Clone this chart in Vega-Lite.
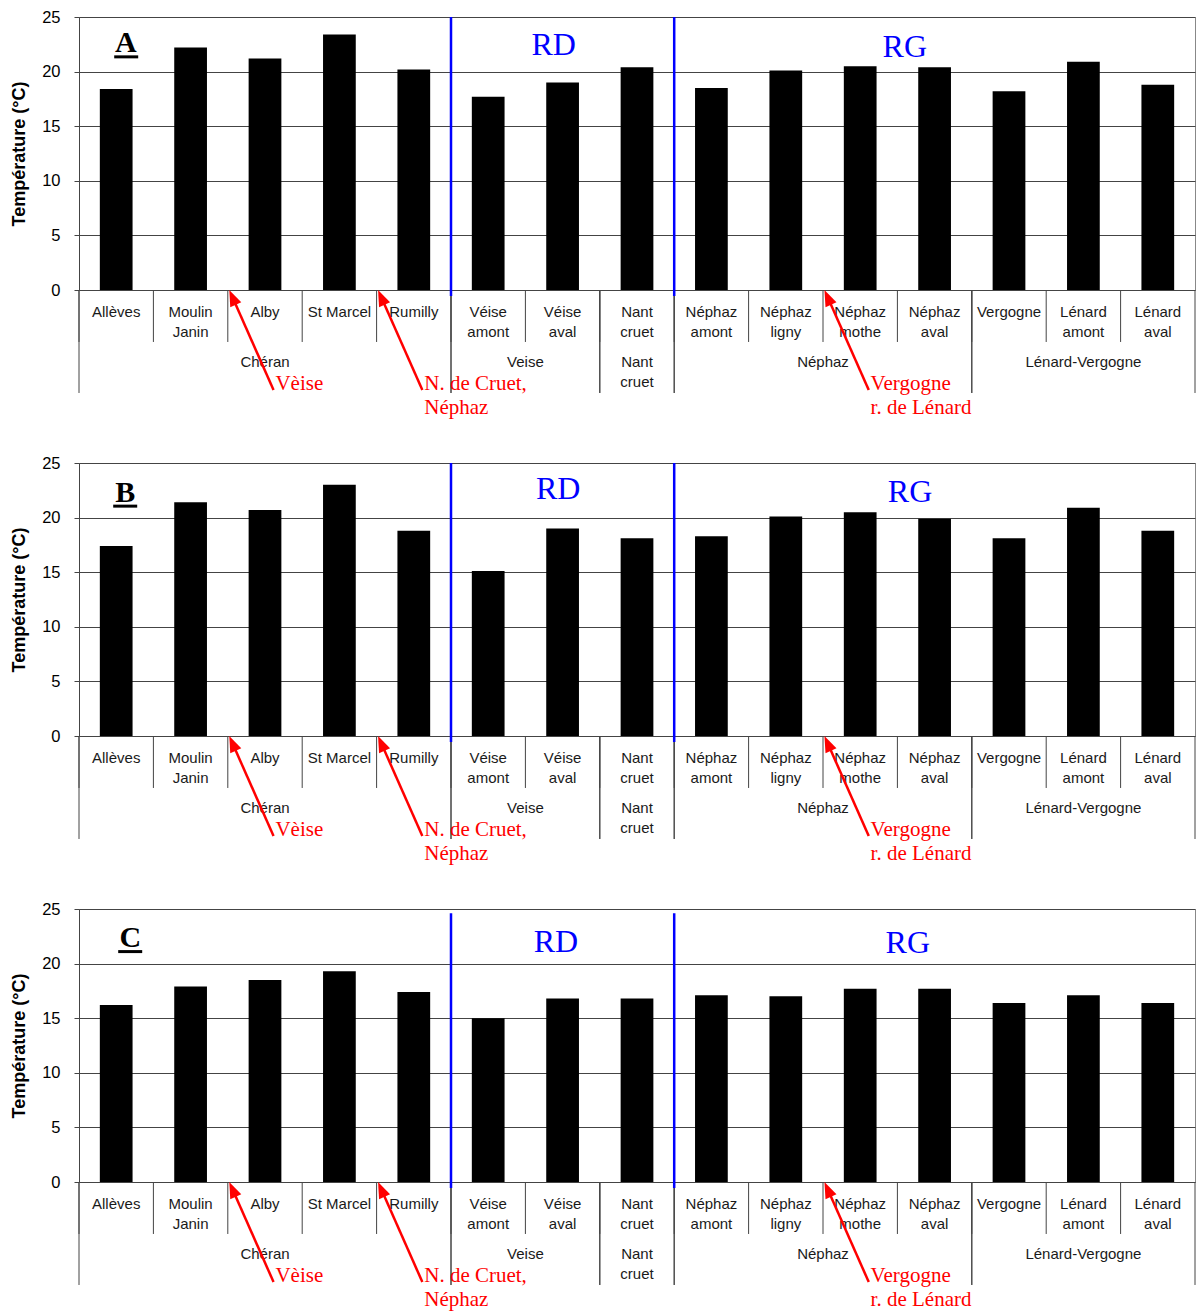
{
  "$schema": "https://vega.github.io/schema/vega-lite/v6.json",
  "background": "white",
  "padding": {"left": 10, "top": 8, "right": 0, "bottom": 0},
  "bounds": "flush",
  "spacing": 173,
  "datasets": {
    "temps": [
      {"panel": "A", "station": "Allèves", "t": 18.4},
      {"panel": "A", "station": "Moulin Janin", "t": 22.2},
      {"panel": "A", "station": "Alby", "t": 21.2},
      {"panel": "A", "station": "St\u00a0Marcel", "t": 23.4},
      {"panel": "A", "station": "Rumilly", "t": 20.2},
      {"panel": "A", "station": "Véise amont", "t": 17.7},
      {"panel": "A", "station": "Véise aval", "t": 19.0},
      {"panel": "A", "station": "Nant cruet", "t": 20.4},
      {"panel": "A", "station": "Néphaz amont", "t": 18.5},
      {"panel": "A", "station": "Néphaz ligny", "t": 20.1},
      {"panel": "A", "station": "Néphaz mothe", "t": 20.5},
      {"panel": "A", "station": "Néphaz aval", "t": 20.4},
      {"panel": "A", "station": "Vergogne", "t": 18.2},
      {"panel": "A", "station": "Lénard amont", "t": 20.9},
      {"panel": "A", "station": "Lénard aval", "t": 18.8},
      {"panel": "B", "station": "Allèves", "t": 17.4},
      {"panel": "B", "station": "Moulin Janin", "t": 21.4},
      {"panel": "B", "station": "Alby", "t": 20.7},
      {"panel": "B", "station": "St\u00a0Marcel", "t": 23.0},
      {"panel": "B", "station": "Rumilly", "t": 18.8},
      {"panel": "B", "station": "Véise amont", "t": 15.1},
      {"panel": "B", "station": "Véise aval", "t": 19.0},
      {"panel": "B", "station": "Nant cruet", "t": 18.1},
      {"panel": "B", "station": "Néphaz amont", "t": 18.3},
      {"panel": "B", "station": "Néphaz ligny", "t": 20.1},
      {"panel": "B", "station": "Néphaz mothe", "t": 20.5},
      {"panel": "B", "station": "Néphaz aval", "t": 19.9},
      {"panel": "B", "station": "Vergogne", "t": 18.1},
      {"panel": "B", "station": "Lénard amont", "t": 20.9},
      {"panel": "B", "station": "Lénard aval", "t": 18.8},
      {"panel": "C", "station": "Allèves", "t": 16.2},
      {"panel": "C", "station": "Moulin Janin", "t": 17.9},
      {"panel": "C", "station": "Alby", "t": 18.5},
      {"panel": "C", "station": "St\u00a0Marcel", "t": 19.3},
      {"panel": "C", "station": "Rumilly", "t": 17.4},
      {"panel": "C", "station": "Véise amont", "t": 15.0},
      {"panel": "C", "station": "Véise aval", "t": 16.8},
      {"panel": "C", "station": "Nant cruet", "t": 16.8},
      {"panel": "C", "station": "Néphaz amont", "t": 17.1},
      {"panel": "C", "station": "Néphaz ligny", "t": 17.0},
      {"panel": "C", "station": "Néphaz mothe", "t": 17.7},
      {"panel": "C", "station": "Néphaz aval", "t": 17.7},
      {"panel": "C", "station": "Vergogne", "t": 16.4},
      {"panel": "C", "station": "Lénard amont", "t": 17.1},
      {"panel": "C", "station": "Lénard aval", "t": 16.4}
    ],
    "groups": [
      {"group": "Chéran", "first": "Allèves", "last": "Rumilly", "anchor": "Alby", "mode": "center"},
      {"group": "Veise", "first": "Véise amont", "last": "Véise aval", "anchor": "Véise amont", "mode": "edge"},
      {"group": "Nant cruet", "first": "Nant cruet", "last": "Nant cruet", "anchor": "Nant cruet", "mode": "center"},
      {"group": "Néphaz", "first": "Néphaz amont", "last": "Néphaz aval", "anchor": "Néphaz ligny", "mode": "edge"},
      {"group": "Lénard-Vergogne", "first": "Vergogne", "last": "Lénard aval", "anchor": "Lénard amont", "mode": "center"}
    ],
    "banks": [
      {"bank": "RD", "edge": "Véise amont", "anchor": "Véise aval"},
      {"bank": "RG", "edge": "Néphaz amont", "anchor": "Néphaz aval"}
    ],
    "arrows": [
      {"at": "Alby", "label": "Vèise"},
      {"at": "Rumilly", "label": "N. de Cruet,\nNéphaz"},
      {"at": "Néphaz mothe", "label": "Vergogne\nr. de Lénard"}
    ],
    "panels": [
      {"panel": "A", "anchor": "Allèves"},
      {"panel": "B", "anchor": "Allèves"},
      {"panel": "C", "anchor": "Allèves"}
    ]
  },
  "vconcat": [
    {
      "width": 1116, "height": 273,
      "layer": [
        {"data": {"name": "temps"}, "transform": [{"filter": "datum.panel === 'A'"}],
         "mark": {"type": "bar", "color": "#000000", "width": {"band": 0.44}},
         "encoding": {
           "x": {"field": "station", "type": "nominal", "sort": null, "axis": null,
                 "scale": {"type": "band", "paddingInner": 0, "paddingOuter": 0, "domain": ["Allèves","Moulin Janin","Alby","St\u00a0Marcel","Rumilly","Véise amont","Véise aval","Nant cruet","Néphaz amont","Néphaz ligny","Néphaz mothe","Néphaz aval","Vergogne","Lénard amont","Lénard aval"]}},
           "y": {"field": "t", "type": "quantitative", "scale": {"domain": [0, 25], "nice": false},
                 "axis": {"title": "Température (°C)", "values": [0, 5, 10, 15, 20, 25], "grid": true, "gridColor": "#444", "domainColor": "#444", "tickColor": "#444", "tickSize": 5, "labelFont": "Liberation Sans", "labelFontSize": 16.5, "labelColor": "#000", "labelPadding": 14, "titleFont": "Liberation Sans", "titleFontSize": 18, "titleFontWeight": "bold", "titleColor": "#000", "titlePadding": 13}}
         }},
        {"data": {"name": "temps"}, "transform": [{"filter": "datum.panel === 'A'"}],
         "mark": {"type": "rule", "color": "#444", "strokeWidth": 1},
         "encoding": {"x": {"field": "station", "type": "nominal", "bandPosition": 0}, "y": {"datum": 0}, "y2": {"datum": -4.76}}},
        {"data": {"name": "groups"},
         "mark": {"type": "rule", "color": "#444", "strokeWidth": 1},
         "encoding": {"x": {"field": "first", "type": "nominal", "bandPosition": 0}, "y": {"datum": 0}, "y2": {"datum": -9.43}}},
        {"data": {"name": "groups"},
         "mark": {"type": "rule", "color": "#444", "strokeWidth": 1},
         "encoding": {"x": {"field": "last", "type": "nominal", "bandPosition": 1}, "y": {"datum": 0}, "y2": {"datum": -9.43}}},
        {"data": {"name": "temps"}, "transform": [{"filter": "datum.panel === 'A'"}],
         "mark": {"type": "text", "font": "Liberation Sans", "fontSize": 15, "color": "#1a1a1a", "lineBreak": " ", "lineHeight": 20, "baseline": "alphabetic", "align": "center"},
         "encoding": {"x": {"field": "station", "type": "nominal", "bandPosition": 0.5}, "y": {"datum": -2.47}, "text": {"field": "station"}}},
        {"data": {"name": "groups"}, "transform": [{"filter": "datum.mode === 'center'"}],
         "mark": {"type": "text", "font": "Liberation Sans", "fontSize": 15, "color": "#1a1a1a", "lineBreak": " ", "lineHeight": 20, "baseline": "alphabetic", "align": "center"},
         "encoding": {"x": {"field": "anchor", "type": "nominal", "bandPosition": 0.5}, "y": {"datum": -7.02}, "text": {"field": "group"}}},
        {"data": {"name": "groups"}, "transform": [{"filter": "datum.mode === 'edge'"}],
         "mark": {"type": "text", "font": "Liberation Sans", "fontSize": 15, "color": "#1a1a1a", "lineBreak": " ", "lineHeight": 20, "baseline": "alphabetic", "align": "center"},
         "encoding": {"x": {"field": "anchor", "type": "nominal", "bandPosition": 1}, "y": {"datum": -7.02}, "text": {"field": "group"}}},
        {"data": {"name": "banks"},
         "mark": {"type": "rule", "color": "#0000FF", "strokeWidth": 2.5},
         "encoding": {"x": {"field": "edge", "type": "nominal", "bandPosition": 0}, "y": {"datum": 25}, "y2": {"datum": -0.55}}},
        {"data": {"name": "banks"}, "transform": [{"filter": "datum.bank === 'RD'"}],
         "mark": {"type": "text", "font": "Liberation Serif", "fontSize": 32, "color": "#0000FF", "baseline": "alphabetic", "align": "center"},
         "encoding": {"x": {"field": "anchor", "type": "nominal", "bandPosition": 0.38}, "y": {"datum": 21.5}, "text": {"field": "bank"}}},
        {"data": {"name": "banks"}, "transform": [{"filter": "datum.bank === 'RG'"}],
         "mark": {"type": "text", "font": "Liberation Serif", "fontSize": 32, "color": "#0000FF", "baseline": "alphabetic", "align": "center"},
         "encoding": {"x": {"field": "anchor", "type": "nominal", "bandPosition": 0.1}, "y": {"datum": 21.36}, "text": {"field": "bank"}}},
        {"data": {"name": "arrows"},
         "mark": {"type": "rule", "color": "#FF0000", "strokeWidth": 2.5},
         "encoding": {"x": {"field": "at", "type": "nominal", "bandPosition": 0.078}, "x2": {"field": "at", "bandPosition": 0.615}, "y": {"datum": -0.9}, "y2": {"datum": -9.16}}},
        {"data": {"name": "arrows"},
         "mark": {"type": "point", "shape": "M0,-1L-0.56,0.5L0.56,0.5Z", "size": 460, "angle": 336, "filled": true, "color": "#FF0000", "opacity": 1},
         "encoding": {"x": {"field": "at", "type": "nominal", "bandPosition": 0.078}, "y": {"datum": -0.9}}},
        {"data": {"name": "arrows"},
         "mark": {"type": "text", "font": "Liberation Serif", "fontSize": 21, "color": "#FF0000", "lineBreak": "\n", "lineHeight": 24, "baseline": "alphabetic", "align": "left"},
         "encoding": {"x": {"field": "at", "type": "nominal", "bandPosition": 0.64}, "y": {"datum": -9.16}, "text": {"field": "label"}}},
        {"data": {"name": "panels"}, "transform": [{"filter": "datum.panel === 'A'"}],
         "mark": {"type": "text", "font": "Liberation Serif", "fontSize": 30, "fontWeight": "bold", "color": "#000", "baseline": "alphabetic", "align": "center"},
         "encoding": {"x": {"field": "anchor", "type": "nominal", "bandPosition": 0.63}, "y": {"datum": 21.8}, "text": {"field": "panel"}}},
        {"data": {"name": "panels"}, "transform": [{"filter": "datum.panel === 'A'"}],
         "mark": {"type": "tick", "orient": "horizontal", "thickness": 3, "size": 24, "color": "#000", "opacity": 1, "xOffset": 10},
         "encoding": {"x": {"field": "anchor", "type": "nominal"}, "y": {"datum": 21.35}}}
      ]
    },
    {
      "width": 1116, "height": 273,
      "layer": [
        {"data": {"name": "temps"}, "transform": [{"filter": "datum.panel === 'B'"}],
         "mark": {"type": "bar", "color": "#000000", "width": {"band": 0.44}},
         "encoding": {
           "x": {"field": "station", "type": "nominal", "sort": null, "axis": null,
                 "scale": {"type": "band", "paddingInner": 0, "paddingOuter": 0, "domain": ["Allèves","Moulin Janin","Alby","St\u00a0Marcel","Rumilly","Véise amont","Véise aval","Nant cruet","Néphaz amont","Néphaz ligny","Néphaz mothe","Néphaz aval","Vergogne","Lénard amont","Lénard aval"]}},
           "y": {"field": "t", "type": "quantitative", "scale": {"domain": [0, 25], "nice": false},
                 "axis": {"title": "Température (°C)", "values": [0, 5, 10, 15, 20, 25], "grid": true, "gridColor": "#444", "domainColor": "#444", "tickColor": "#444", "tickSize": 5, "labelFont": "Liberation Sans", "labelFontSize": 16.5, "labelColor": "#000", "labelPadding": 14, "titleFont": "Liberation Sans", "titleFontSize": 18, "titleFontWeight": "bold", "titleColor": "#000", "titlePadding": 13}}
         }},
        {"data": {"name": "temps"}, "transform": [{"filter": "datum.panel === 'B'"}],
         "mark": {"type": "rule", "color": "#444", "strokeWidth": 1},
         "encoding": {"x": {"field": "station", "type": "nominal", "bandPosition": 0}, "y": {"datum": 0}, "y2": {"datum": -4.76}}},
        {"data": {"name": "groups"},
         "mark": {"type": "rule", "color": "#444", "strokeWidth": 1},
         "encoding": {"x": {"field": "first", "type": "nominal", "bandPosition": 0}, "y": {"datum": 0}, "y2": {"datum": -9.43}}},
        {"data": {"name": "groups"},
         "mark": {"type": "rule", "color": "#444", "strokeWidth": 1},
         "encoding": {"x": {"field": "last", "type": "nominal", "bandPosition": 1}, "y": {"datum": 0}, "y2": {"datum": -9.43}}},
        {"data": {"name": "temps"}, "transform": [{"filter": "datum.panel === 'B'"}],
         "mark": {"type": "text", "font": "Liberation Sans", "fontSize": 15, "color": "#1a1a1a", "lineBreak": " ", "lineHeight": 20, "baseline": "alphabetic", "align": "center"},
         "encoding": {"x": {"field": "station", "type": "nominal", "bandPosition": 0.5}, "y": {"datum": -2.47}, "text": {"field": "station"}}},
        {"data": {"name": "groups"}, "transform": [{"filter": "datum.mode === 'center'"}],
         "mark": {"type": "text", "font": "Liberation Sans", "fontSize": 15, "color": "#1a1a1a", "lineBreak": " ", "lineHeight": 20, "baseline": "alphabetic", "align": "center"},
         "encoding": {"x": {"field": "anchor", "type": "nominal", "bandPosition": 0.5}, "y": {"datum": -7.02}, "text": {"field": "group"}}},
        {"data": {"name": "groups"}, "transform": [{"filter": "datum.mode === 'edge'"}],
         "mark": {"type": "text", "font": "Liberation Sans", "fontSize": 15, "color": "#1a1a1a", "lineBreak": " ", "lineHeight": 20, "baseline": "alphabetic", "align": "center"},
         "encoding": {"x": {"field": "anchor", "type": "nominal", "bandPosition": 1}, "y": {"datum": -7.02}, "text": {"field": "group"}}},
        {"data": {"name": "banks"},
         "mark": {"type": "rule", "color": "#0000FF", "strokeWidth": 2.5},
         "encoding": {"x": {"field": "edge", "type": "nominal", "bandPosition": 0}, "y": {"datum": 25}, "y2": {"datum": -0.55}}},
        {"data": {"name": "banks"}, "transform": [{"filter": "datum.bank === 'RD'"}],
         "mark": {"type": "text", "font": "Liberation Serif", "fontSize": 32, "color": "#0000FF", "baseline": "alphabetic", "align": "center"},
         "encoding": {"x": {"field": "anchor", "type": "nominal", "bandPosition": 0.44}, "y": {"datum": 21.7}, "text": {"field": "bank"}}},
        {"data": {"name": "banks"}, "transform": [{"filter": "datum.bank === 'RG'"}],
         "mark": {"type": "text", "font": "Liberation Serif", "fontSize": 32, "color": "#0000FF", "baseline": "alphabetic", "align": "center"},
         "encoding": {"x": {"field": "anchor", "type": "nominal", "bandPosition": 0.17}, "y": {"datum": 21.4}, "text": {"field": "bank"}}},
        {"data": {"name": "arrows"},
         "mark": {"type": "rule", "color": "#FF0000", "strokeWidth": 2.5},
         "encoding": {"x": {"field": "at", "type": "nominal", "bandPosition": 0.078}, "x2": {"field": "at", "bandPosition": 0.615}, "y": {"datum": -0.9}, "y2": {"datum": -9.16}}},
        {"data": {"name": "arrows"},
         "mark": {"type": "point", "shape": "M0,-1L-0.56,0.5L0.56,0.5Z", "size": 460, "angle": 336, "filled": true, "color": "#FF0000", "opacity": 1},
         "encoding": {"x": {"field": "at", "type": "nominal", "bandPosition": 0.078}, "y": {"datum": -0.9}}},
        {"data": {"name": "arrows"},
         "mark": {"type": "text", "font": "Liberation Serif", "fontSize": 21, "color": "#FF0000", "lineBreak": "\n", "lineHeight": 24, "baseline": "alphabetic", "align": "left"},
         "encoding": {"x": {"field": "at", "type": "nominal", "bandPosition": 0.64}, "y": {"datum": -9.16}, "text": {"field": "label"}}},
        {"data": {"name": "panels"}, "transform": [{"filter": "datum.panel === 'B'"}],
         "mark": {"type": "text", "font": "Liberation Serif", "fontSize": 30, "fontWeight": "bold", "color": "#000", "baseline": "alphabetic", "align": "center"},
         "encoding": {"x": {"field": "anchor", "type": "nominal", "bandPosition": 0.62}, "y": {"datum": 21.43}, "text": {"field": "panel"}}},
        {"data": {"name": "panels"}, "transform": [{"filter": "datum.panel === 'B'"}],
         "mark": {"type": "tick", "orient": "horizontal", "thickness": 3, "size": 24, "color": "#000", "opacity": 1, "xOffset": 9},
         "encoding": {"x": {"field": "anchor", "type": "nominal"}, "y": {"datum": 21.05}}}
      ]
    },
    {
      "width": 1116, "height": 273,
      "layer": [
        {"data": {"name": "temps"}, "transform": [{"filter": "datum.panel === 'C'"}],
         "mark": {"type": "bar", "color": "#000000", "width": {"band": 0.44}},
         "encoding": {
           "x": {"field": "station", "type": "nominal", "sort": null, "axis": null,
                 "scale": {"type": "band", "paddingInner": 0, "paddingOuter": 0, "domain": ["Allèves","Moulin Janin","Alby","St\u00a0Marcel","Rumilly","Véise amont","Véise aval","Nant cruet","Néphaz amont","Néphaz ligny","Néphaz mothe","Néphaz aval","Vergogne","Lénard amont","Lénard aval"]}},
           "y": {"field": "t", "type": "quantitative", "scale": {"domain": [0, 25], "nice": false},
                 "axis": {"title": "Température (°C)", "values": [0, 5, 10, 15, 20, 25], "grid": true, "gridColor": "#444", "domainColor": "#444", "tickColor": "#444", "tickSize": 5, "labelFont": "Liberation Sans", "labelFontSize": 16.5, "labelColor": "#000", "labelPadding": 14, "titleFont": "Liberation Sans", "titleFontSize": 18, "titleFontWeight": "bold", "titleColor": "#000", "titlePadding": 13}}
         }},
        {"data": {"name": "temps"}, "transform": [{"filter": "datum.panel === 'C'"}],
         "mark": {"type": "rule", "color": "#444", "strokeWidth": 1},
         "encoding": {"x": {"field": "station", "type": "nominal", "bandPosition": 0}, "y": {"datum": 0}, "y2": {"datum": -4.76}}},
        {"data": {"name": "groups"},
         "mark": {"type": "rule", "color": "#444", "strokeWidth": 1},
         "encoding": {"x": {"field": "first", "type": "nominal", "bandPosition": 0}, "y": {"datum": 0}, "y2": {"datum": -9.43}}},
        {"data": {"name": "groups"},
         "mark": {"type": "rule", "color": "#444", "strokeWidth": 1},
         "encoding": {"x": {"field": "last", "type": "nominal", "bandPosition": 1}, "y": {"datum": 0}, "y2": {"datum": -9.43}}},
        {"data": {"name": "temps"}, "transform": [{"filter": "datum.panel === 'C'"}],
         "mark": {"type": "text", "font": "Liberation Sans", "fontSize": 15, "color": "#1a1a1a", "lineBreak": " ", "lineHeight": 20, "baseline": "alphabetic", "align": "center"},
         "encoding": {"x": {"field": "station", "type": "nominal", "bandPosition": 0.5}, "y": {"datum": -2.47}, "text": {"field": "station"}}},
        {"data": {"name": "groups"}, "transform": [{"filter": "datum.mode === 'center'"}],
         "mark": {"type": "text", "font": "Liberation Sans", "fontSize": 15, "color": "#1a1a1a", "lineBreak": " ", "lineHeight": 20, "baseline": "alphabetic", "align": "center"},
         "encoding": {"x": {"field": "anchor", "type": "nominal", "bandPosition": 0.5}, "y": {"datum": -7.02}, "text": {"field": "group"}}},
        {"data": {"name": "groups"}, "transform": [{"filter": "datum.mode === 'edge'"}],
         "mark": {"type": "text", "font": "Liberation Sans", "fontSize": 15, "color": "#1a1a1a", "lineBreak": " ", "lineHeight": 20, "baseline": "alphabetic", "align": "center"},
         "encoding": {"x": {"field": "anchor", "type": "nominal", "bandPosition": 1}, "y": {"datum": -7.02}, "text": {"field": "group"}}},
        {"data": {"name": "banks"},
         "mark": {"type": "rule", "color": "#0000FF", "strokeWidth": 2.5},
         "encoding": {"x": {"field": "edge", "type": "nominal", "bandPosition": 0}, "y": {"datum": 24.6}, "y2": {"datum": -0.55}}},
        {"data": {"name": "banks"}, "transform": [{"filter": "datum.bank === 'RD'"}],
         "mark": {"type": "text", "font": "Liberation Serif", "fontSize": 32, "color": "#0000FF", "baseline": "alphabetic", "align": "center"},
         "encoding": {"x": {"field": "anchor", "type": "nominal", "bandPosition": 0.41}, "y": {"datum": 21.1}, "text": {"field": "bank"}}},
        {"data": {"name": "banks"}, "transform": [{"filter": "datum.bank === 'RG'"}],
         "mark": {"type": "text", "font": "Liberation Serif", "fontSize": 32, "color": "#0000FF", "baseline": "alphabetic", "align": "center"},
         "encoding": {"x": {"field": "anchor", "type": "nominal", "bandPosition": 0.14}, "y": {"datum": 21.0}, "text": {"field": "bank"}}},
        {"data": {"name": "arrows"},
         "mark": {"type": "rule", "color": "#FF0000", "strokeWidth": 2.5},
         "encoding": {"x": {"field": "at", "type": "nominal", "bandPosition": 0.078}, "x2": {"field": "at", "bandPosition": 0.615}, "y": {"datum": -0.9}, "y2": {"datum": -9.16}}},
        {"data": {"name": "arrows"},
         "mark": {"type": "point", "shape": "M0,-1L-0.56,0.5L0.56,0.5Z", "size": 460, "angle": 336, "filled": true, "color": "#FF0000", "opacity": 1},
         "encoding": {"x": {"field": "at", "type": "nominal", "bandPosition": 0.078}, "y": {"datum": -0.9}}},
        {"data": {"name": "arrows"},
         "mark": {"type": "text", "font": "Liberation Serif", "fontSize": 21, "color": "#FF0000", "lineBreak": "\n", "lineHeight": 24, "baseline": "alphabetic", "align": "left"},
         "encoding": {"x": {"field": "at", "type": "nominal", "bandPosition": 0.64}, "y": {"datum": -9.16}, "text": {"field": "label"}}},
        {"data": {"name": "panels"}, "transform": [{"filter": "datum.panel === 'C'"}],
         "mark": {"type": "text", "font": "Liberation Serif", "fontSize": 30, "fontWeight": "bold", "color": "#000", "baseline": "alphabetic", "align": "center"},
         "encoding": {"x": {"field": "anchor", "type": "nominal", "bandPosition": 0.69}, "y": {"datum": 21.5}, "text": {"field": "panel"}}},
        {"data": {"name": "panels"}, "transform": [{"filter": "datum.panel === 'C'"}],
         "mark": {"type": "tick", "orient": "horizontal", "thickness": 3, "size": 24, "color": "#000", "opacity": 1, "xOffset": 14},
         "encoding": {"x": {"field": "anchor", "type": "nominal"}, "y": {"datum": 21.1}}}
      ]
    }
  ],
  "config": {
    "view": {"stroke": "#888", "strokeWidth": 1}
  }
}
